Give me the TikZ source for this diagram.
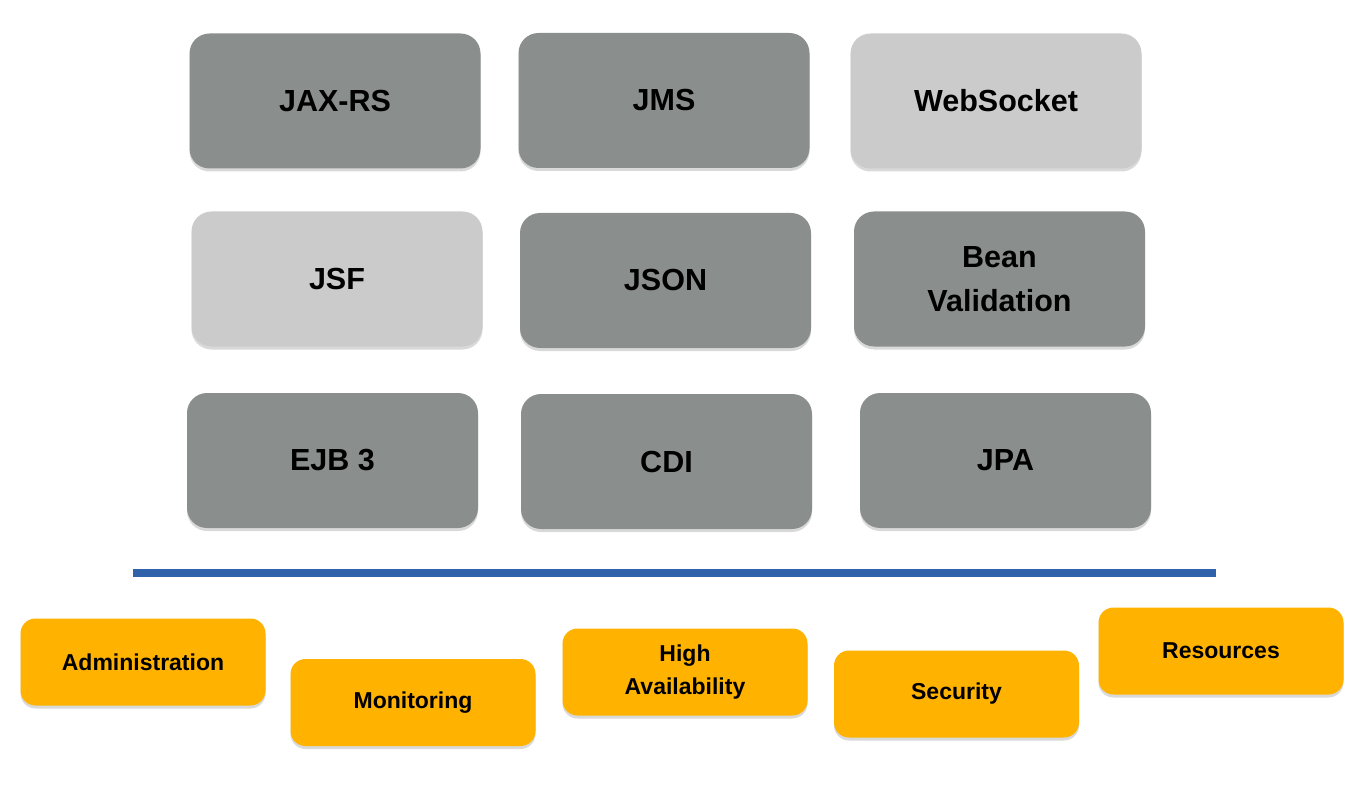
\documentclass[tikz,border=0pt]{standalone}
\usepackage{fontspec}
\setmainfont{Liberation Sans}
\usetikzlibrary{shadows}
\definecolor{boxgray}{HTML}{8A8F8E}
\definecolor{boxlight}{HTML}{CBCBCB}
\definecolor{boxorange}{HTML}{FFB300}
\definecolor{lineblue}{HTML}{3062AC}
\tikzset{
  softshadow/.style={drop shadow={shadow xshift=0pt, shadow yshift=-3pt, fill=black, opacity=0.15}},
  techbox/.style={rectangle, rounded corners=20pt, draw=none, inner sep=0pt, outer sep=0pt,
    minimum width=291pt, minimum height=135pt, align=center, softshadow,
    font=\fontsize{30.5}{44}\selectfont\bfseries},
  darkbox/.style={techbox, fill=boxgray},
  lightbox/.style={techbox, fill=boxlight},
  svcbox/.style={rectangle, rounded corners=15pt, draw=none, fill=boxorange, inner sep=0pt, outer sep=0pt,
    minimum width=245pt, minimum height=87pt, align=center, softshadow,
    font=\fontsize{23}{33}\selectfont\bfseries},
}
\begin{document}
\begin{tikzpicture}[x=1pt,y=-1pt]
\useasboundingbox (0,0) rectangle (1368,794);
\node[darkbox]  (jaxrs) at (335,101)   {JAX-RS};
\node[darkbox]  (jms)   at (664,100.5)  {JMS};
\node[lightbox] (ws)    at (996,101)   {WebSocket};
\node[lightbox] (jsf)   at (337,279)   {JSF};
\node[darkbox]  (json)  at (665.5,280.5) {JSON};
\node[darkbox]  (bv)    at (999.5,279) {Bean\\Validation};
\node[darkbox]  (ejb)   at (332.5,460.5) {EJB 3};
\node[darkbox]  (cdi)   at (666.5,461.5) {CDI};
\node[darkbox]  (jpa)   at (1005.5,460.5) {JPA};
\coordinate (l1) at (133,573);
\coordinate (l2) at (1216,573);
\draw[lineblue, line width=8pt] (l1) -- (l2);
\node[svcbox] (admin) at (143,662) {Administration};
\node[svcbox] (mon)   at (413,702.5)   {Monitoring};
\node[svcbox] (ha)    at (685,672) {High\\Availability};
\node[svcbox] (sec)   at (956.5,694) {Security};
\node[svcbox] (res)   at (1221,651) {Resources};
\end{tikzpicture}
\end{document}
